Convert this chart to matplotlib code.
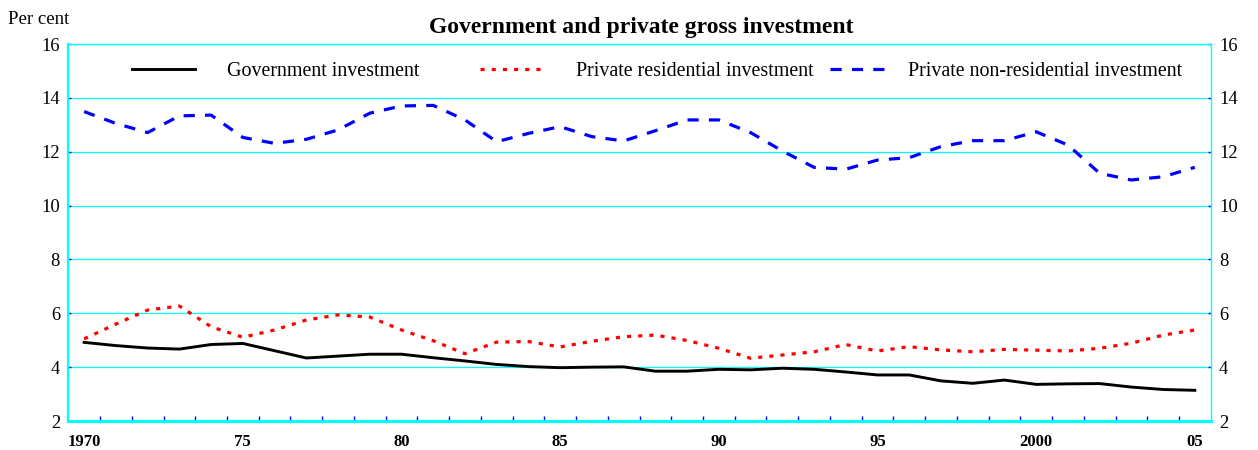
import matplotlib
matplotlib.use("Agg")
import matplotlib.pyplot as plt
import numpy as np

years = list(range(1970, 2006))
government = [4.92, 4.80, 4.71, 4.67, 4.84, 4.88, 4.61, 4.34, 4.41, 4.48,
              4.48, 4.35, 4.23, 4.10, 4.02, 3.98, 4.00, 4.01, 3.85, 3.85,
              3.92, 3.90, 3.96, 3.92, 3.82, 3.71, 3.71, 3.49, 3.40, 3.52,
              3.36, 3.38, 3.39, 3.26, 3.17, 3.14]
residential = [5.05, 5.60, 6.12, 6.27, 5.50, 5.11, 5.38, 5.75, 5.94, 5.86,
               5.38, 4.98, 4.50, 4.93, 4.95, 4.75, 4.96, 5.13, 5.19, 4.99,
               4.70, 4.33, 4.45, 4.57, 4.84, 4.60, 4.76, 4.64, 4.57, 4.66,
               4.63, 4.60, 4.70, 4.89, 5.19, 5.38]
non_residential = [13.49, 13.05, 12.71, 13.33, 13.36, 12.53, 12.31, 12.46, 12.81, 13.43,
                   13.70, 13.72, 13.18, 12.37, 12.68, 12.93, 12.56, 12.40, 12.78, 13.18,
                   13.18, 12.71, 12.03, 11.42, 11.35, 11.69, 11.78, 12.19, 12.41, 12.41,
                   12.74, 12.25, 11.20, 10.95, 11.07, 11.42]

series_names = ["Government investment", "Private residential investment",
                "Private non-residential investment"]
y_ticks = [2, 4, 6, 8, 10, 12, 14, 16]
x_tick_years = [1970, 1975, 1980, 1985, 1990, 1995, 2000, 2005]
x_tick_labels = ["1970", "75", "80", "85", "90", "95", "2000", "05"]

plt.rcParams["font.family"] = ["Liberation Serif", "DejaVu Serif"]

W, H = 1258, 450
fig = plt.figure(figsize=(W / 100, H / 100), dpi=100)
ax = fig.add_axes([68.3 / W, 29 / H, (1210.7 - 68.3) / W, 377 / H])

CYAN = "#00FFFF"
ax.set_xlim(1969.5, 2005.5)
ax.set_ylim(2, 16)

ax.yaxis.grid(True, color=CYAN, lw=0.9)
ax.set_axisbelow(True)

l1, = ax.plot(years, government, color="black", lw=2.1, solid_joinstyle="round")
l2, = ax.plot(years, residential, color="red", lw=2.3, linestyle=(0, (1.3, 2.2)))
l3, = ax.plot(years, non_residential, color="blue", lw=2.3, linestyle=(0, (3.5, 3.2)))

for side, lw in [("left", 1.6), ("bottom", 2.2), ("right", 1.0), ("top", 1.0)]:
    ax.spines[side].set_color(CYAN)
    ax.spines[side].set_linewidth(lw)

ax.set_yticks(y_ticks)
ax.set_yticklabels([str(v) for v in y_ticks])
ax.tick_params(axis="y", which="both", direction="in", length=2, width=1, color="blue",
               left=True, right=True, labelleft=True, labelright=True,
               labelsize=13.3, pad=6)

ax.set_xticks(x_tick_years)
ax.set_xticklabels(x_tick_labels, fontweight="bold")
ax.set_xticks(np.arange(1970.5, 2005.5, 1.0), minor=True)
ax.tick_params(axis="x", which="major", length=0, labelsize=12, pad=9)
ax.tick_params(axis="x", which="minor", direction="in", length=3.5, width=1, color="blue")

fig.text(641 / W, 1 - 27.5 / H, "Government and private gross investment", ha="center", va="center",
         fontsize=17, fontweight="bold")
fig.text(8 / W, 1 - 19 / H, "Per cent", ha="left", va="center", fontsize=13.5)

legend_specs = [
    (l1, series_names[0], 131.7, 3.15, 1.6),
    (l2, series_names[1], 480.0, 3.1, 1.68),
    (l3, series_names[2], 830.0, 2.9, 1.0),
]
legs = []
for handle, name, xpx, hl, htp in legend_specs:
    lg = ax.legend([handle], [name], loc="center left",
                   bbox_to_anchor=(xpx / W, 1 - 71 / H), bbox_transform=fig.transFigure,
                   frameon=False, borderpad=0, borderaxespad=0, fontsize=14.4,
                   handlelength=hl, handletextpad=htp)
    legs.append(lg)
for lg in legs[:-1]:
    ax.add_artist(lg)

fig.savefig("out.png", dpi=100)
